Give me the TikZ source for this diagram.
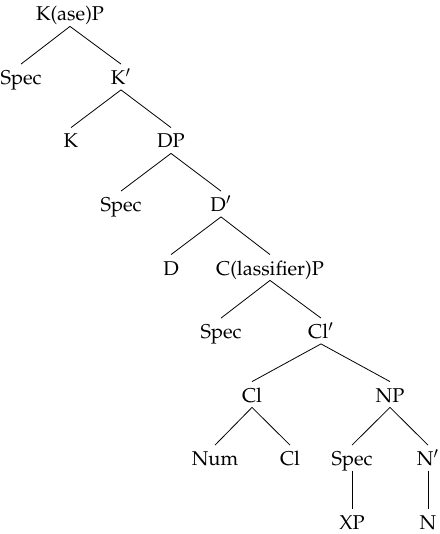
\documentclass[tikz,border=0pt]{standalone}
\usepackage[T1]{fontenc}
\usepackage{mathpazo}

\begin{document}
\begin{tikzpicture}[x = 0.5 pt, y = -0.5 pt, every node/.style = {text height = 7.5 pt, text depth = 0 pt, inner xsep = 1 pt, inner ysep = 2.5 pt}]

	% Definitions
	
	\def\T{13.5}	% Height of the top row
	\def\H{63.5}	% Distance between rows
	
	\useasboundingbox (0, 0) rectangle (439, 534);
	
	% K(ase)P and K'
	
	\node (kp) at (70, \T) {K(ase)P};
	\node (kspec) at (21, {\T + \H}) {Spec};
	\node (kbar) at (121, {\T + \H}) {K$'$};
	\node (k) at (71, {\T + 2 * \H}) {K};
	
	% DP and D'
	
	\node (dp) at (171, {\T + 2 * \H}) {DP};
	\node (dspec) at (121, {\T + 3 * \H}) {Spec};
	\node (dbar) at (221, {\T + 3 * \H}) {D$'$};
	\node (d) at (171, {\T + 4 * \H}) {D};
	
	% C(lassifier)P and Cl'
	
	\node (clp) at (270, {\T + 4 * \H}) {C(lassifier)P};
	\node (clspec) at (221, {\T + 5 * \H}) {Spec};
	\node (clbar) at (321, {\T + 5 * \H}) {Cl$'$};
	\node (cl) at (252, {\T + 6 * \H}) {Cl};
	\node (num) at (215, {\T + 7 * \H}) {Num};
	\node (clhead) at (290, {\T + 7 * \H}) {Cl};
	
	% NP and N'
	
	\node (np) at (390, {\T + 6 * \H}) {NP};
	\node (nspec) at (352, {\T + 7 * \H}) {Spec};
	\node (nbar) at (428, {\T + 7 * \H}) {N$'$};
	\node (xp) at (352, {\T + 8 * \H}) {XP};
	\node (n) at (428, {\T + 8 * \H}) {N};
	
	% Branches
	
	\foreach \a/\b in {kp/kspec, kp/kbar, kbar/k, kbar/dp, dp/dspec, dp/dbar, dbar/d, dbar/clp, clp/clspec, clp/clbar, clbar/cl, clbar/np, cl/num, cl/clhead, np/nspec, np/nbar, nspec/xp, nbar/n}
		\draw (\a.south) -- (\b.north);

\end{tikzpicture}
\end{document}
